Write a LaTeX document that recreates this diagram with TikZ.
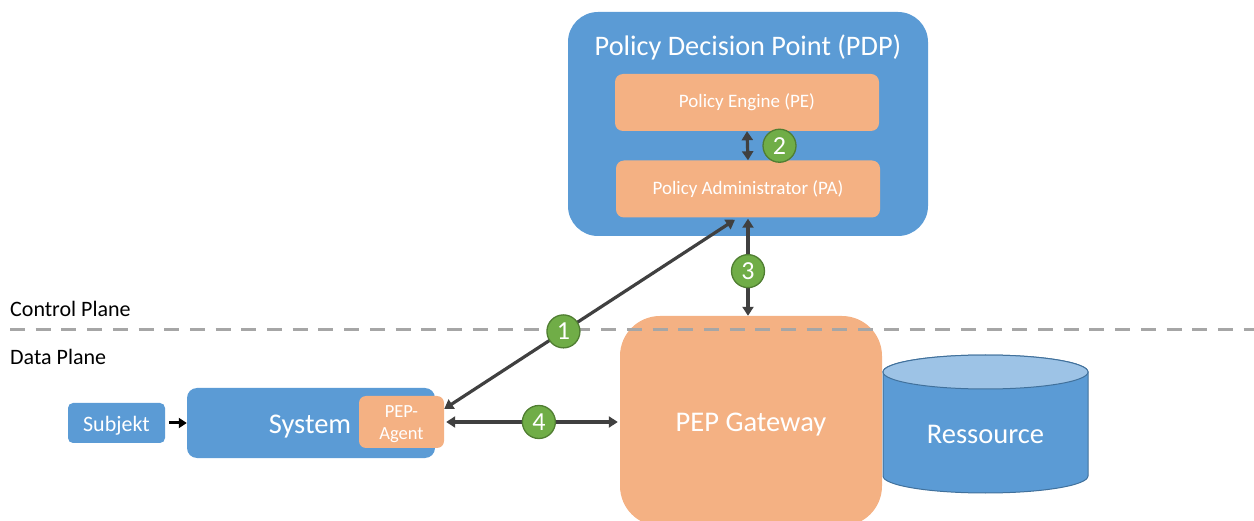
\documentclass[tikz,border=0pt]{standalone}
\usepackage{fontspec}
\setmainfont{Carlito}
\usetikzlibrary{arrows.meta,calc}
\definecolor{boxblue}{HTML}{5B9BD5}
\definecolor{boxorange}{HTML}{F4B183}
\definecolor{badgegreen}{HTML}{70AD47}
\definecolor{badgeedge}{HTML}{507E32}
\definecolor{arrowgray}{HTML}{404040}
\definecolor{planegray}{HTML}{A6A6A6}
\definecolor{cyltop}{HTML}{9DC3E6}
\definecolor{cyledge}{HTML}{41719C}
\tikzset{
  bluebox/.style={fill=boxblue, draw=none, text=white, inner sep=0pt},
  orangebox/.style={fill=boxorange, draw=none, text=white, inner sep=0pt},
  badge/.style={circle, fill=badgegreen, draw=badgeedge, line width=1.3pt,
    text=white, minimum size=33pt, inner sep=0pt, font=\fontsize{26}{26}\selectfont},
  link/.style={draw=arrowgray, line width=3.2pt,
    {Triangle[length=9pt,width=11pt]}-{Triangle[length=9pt,width=11pt]}},
  planelabel/.style={anchor=west, text=black, inner sep=0pt, font=\fontsize{22}{22}\selectfont},
  bigtext/.style={text=white, font=\fontsize{28.5}{28.5}\selectfont}
}
\begin{document}
\begin{tikzpicture}[x=1pt,y=-1pt]
\useasboundingbox (0,0) rectangle (1254,521);

% Policy Decision Point with its two components
\node[bluebox, rounded corners=30pt, minimum width=360pt, minimum height=224pt] (pdp) at (748,124) {};
\node[text=white, font=\fontsize{28.3}{28.3}\selectfont] (pdptitle) at (748,47.5) {Policy Decision Point (PDP)};
\node[orangebox, rounded corners=8pt, minimum width=264pt, minimum height=57pt,
  font=\fontsize{19}{19}\selectfont] (pe) at (747,102.5) {Policy Engine (PE)};
\node[orangebox, rounded corners=8pt, minimum width=264pt, minimum height=57pt,
  font=\fontsize{19}{19}\selectfont] (pa) at (748,189) {Policy Administrator (PA)};

% Gateway in the data plane
\node[orangebox, rounded corners=40pt, minimum width=262pt, minimum height=210pt] (gw) at (751,421) {};
\node[bigtext] (gwlabel) at (751,424.5) {PEP Gateway};

% Resource as a cylinder
\fill[boxblue, draw=cyledge, line width=1pt]
  (883,372) -- (883,476) arc[start angle=180, end angle=360, x radius=102.5pt, y radius=17pt]
  -- (1088,372) arc[start angle=0, end angle=180, x radius=102.5pt, y radius=17pt] -- cycle;
\fill[cyltop, draw=cyledge, line width=1pt] (985.5,372) ellipse[x radius=102.5pt, y radius=17pt];
\node[bigtext] (res) at (985.5,434) {Ressource};

% Plane separator
\node[planelabel] (cplane) at (10,309) {Control Plane};
\node[planelabel] (dplane) at (10,357) {Data Plane};
\coordinate (sepL) at (10,329.5);
\coordinate (sepR) at (1254,329.5);
\draw[planegray, line width=3pt, dash pattern=on 15pt off 10.7pt] (sepL) -- (sepR);

% Subject, system and agent
\node[bluebox, rounded corners=5pt, minimum width=97pt, minimum height=40pt,
  font=\fontsize{22}{22}\selectfont] (subj) at (116.5,423) {};
\node[text=white, font=\fontsize{22}{22}\selectfont] (subjlabel) at (116.5,425.5) {Subjekt};
\node[bluebox, rounded corners=10pt, minimum width=248pt, minimum height=70pt] (sys) at (311,423) {};
\node[bigtext] (syslabel) at (310,426.5) {System};
\node[orangebox, rounded corners=7pt, minimum width=85pt, minimum height=52pt] (agent) at (401.5,422) {};
\node[text=white, align=center, font=\fontsize{18.5}{22}\selectfont] (agentlabel) at (401.5,424.5) {PEP-\\Agent};

% Connectors
\draw[draw=black, line width=3pt, -{Triangle[length=8pt,width=10pt]}]
  ([xshift=4pt]subj.east) -- (sys.west);
\draw[link] (pe.south) -- (pa.north);
\node[badge] (b2) at ($(pe.south)!0.5!(pa.north)+(32,0)$) {2};
\draw[link] ([yshift=13pt]agent.east) -- ([xshift=-13pt,yshift=-2pt]pa.south)
  node[badge, pos=0.41] (b1) {1};
\draw[link] ([yshift=-1pt]pa.south) -- (pa.south |- gw.north)
  node[badge, pos=0.54] (b3) {3};
\draw[link] ([xshift=2pt]agent.east) -- ([xshift=-2pt]gw.west |- agent.east)
  node[badge, pos=0.54] (b4) {4};
\end{tikzpicture}
\end{document}
